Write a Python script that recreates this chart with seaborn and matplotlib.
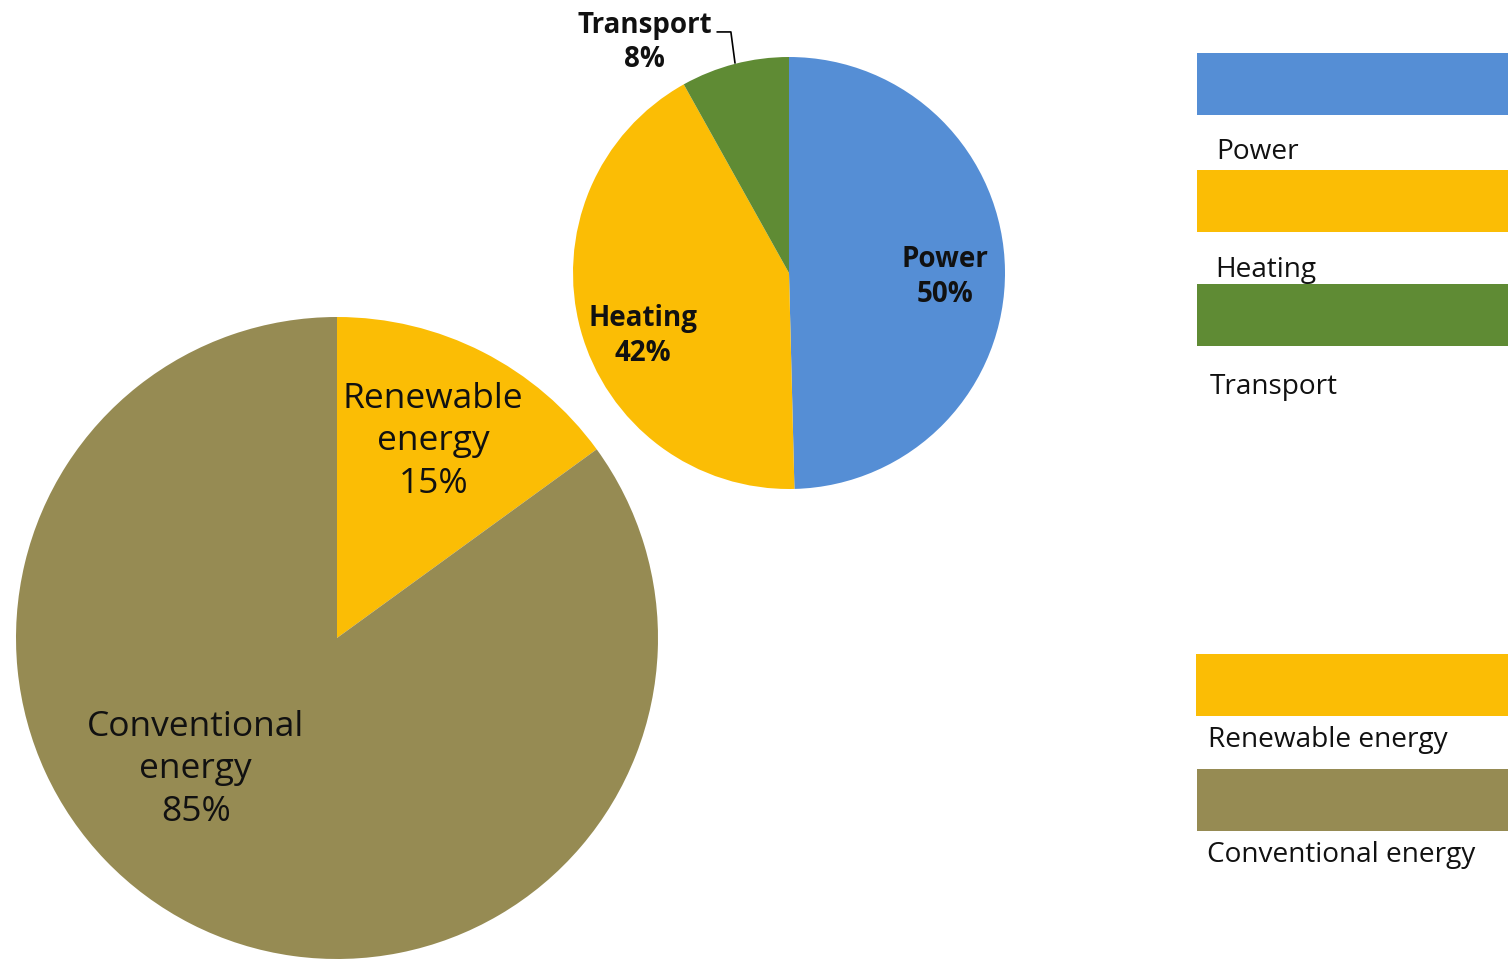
import matplotlib
matplotlib.use("Agg")
import matplotlib.pyplot as plt
import seaborn as sns
from matplotlib.patches import Rectangle

# data
sector_names = ["Power", "Heating", "Transport"]
sector_share = [49.6, 42.3, 8.1]
sector_colors = ["#558ED5", "#FBBD05", "#5F8B34"]

energy_names = ["Renewable energy", "Conventional energy"]
energy_share = [15.0, 85.0]
energy_colors = ["#FBBD05", "#968B53"]

sns.set_style("white")
plt.rcParams["font.family"] = ["Open Sans", "DejaVu Sans"]

W, H = 1508, 959
fig = plt.figure(figsize=(W / 100, H / 100), dpi=100)


def px_axes(cx, cy, r):
    # axes that holds a pie of radius r centered at pixel (cx, cy), top-left origin
    return fig.add_axes([(cx - r) / W, (H - cy - r) / H, 2 * r / W, 2 * r / H])


def pct(v, vals):
    return f"{v / sum(vals) * 100:.0f}%"


# big pie: renewable vs conventional
ax1 = px_axes(337, 638, 321)
ax1.pie(energy_share, colors=energy_colors, startangle=90, counterclock=False,
        radius=1, wedgeprops=dict(linewidth=0))
ax1.set_xlim(-1, 1)
ax1.set_ylim(-1, 1)
ax1.set_aspect("equal")
ax1.axis("off")
big_pos = [(0.30, 0.613), (-0.44, -0.409)]
big_txt = ["Renewable\nenergy", "Conventional\nenergy"]
for (x, y), t, v in zip(big_pos, big_txt, energy_share):
    ax1.text(x, y, f"{t}\n{pct(v, energy_share)}", ha="center", va="center",
             fontsize=25.5, linespacing=1.33, color="#111111")

# small pie: sectors
ax2 = px_axes(789, 273, 216)
ax2.pie(sector_share, colors=sector_colors, startangle=90, counterclock=False,
        radius=1, wedgeprops=dict(linewidth=0))
ax2.set_xlim(-1, 1)
ax2.set_ylim(-1, 1)
ax2.set_aspect("equal")
ax2.axis("off")
small_pos = [(0.72, -0.019), (-0.676, -0.292), (-0.667, 1.067)]
for (x, y), n, v in zip(small_pos, sector_names, sector_share):
    ax2.text(x, y, f"{n}\n{pct(v, sector_share)}", ha="center", va="center",
             fontsize=20, fontweight="bold", linespacing=1.27, color="#111111",
             clip_on=False)
ax2.plot([-0.333, -0.269, -0.25], [1.116, 1.116, 0.972], color="black",
         lw=1.2, clip_on=False)

# legend blocks on the right (clipped at the figure edge)
leg_names = sector_names + energy_names
leg_colors = sector_colors + energy_colors
rect_top = [53, 170, 284, 654, 769]
rect_left = [1197, 1197, 1197, 1196, 1197]
label_x = [1216, 1215, 1210, 1208, 1207]
label_base = [159, 277, 394, 747, 862]
for n, c, top, left, lx, ly in zip(leg_names, leg_colors, rect_top, rect_left,
                                   label_x, label_base):
    fig.patches.append(Rectangle((left / W, (H - top - 62) / H), (W - left) / W,
                                 62 / H, transform=fig.transFigure,
                                 facecolor=c, edgecolor="none"))
    fig.text(lx / W, (H - ly) / H, n, ha="left", va="baseline", fontsize=20.2,
             color="#111111")

fig.savefig("out.png", dpi=100)
